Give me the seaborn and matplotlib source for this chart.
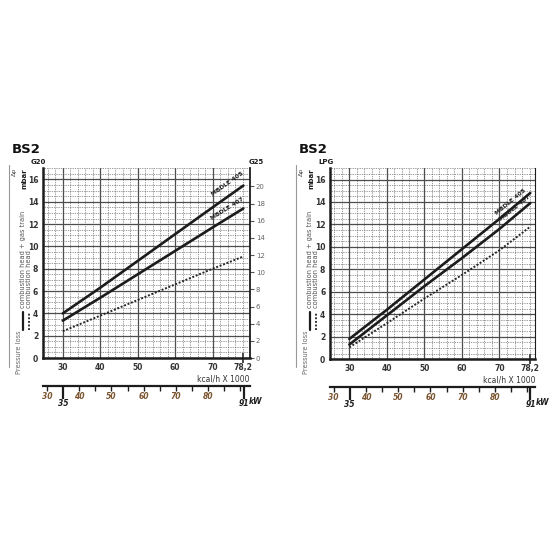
import matplotlib
matplotlib.use("Agg")
import matplotlib.pyplot as plt
from matplotlib.ticker import MultipleLocator, NullFormatter
from matplotlib.lines import Line2D
import seaborn as sns

# ---- data (kcal/h x 1000 vs pressure loss, mbar) ----
kcal = [30, 40, 50, 60, 70, 78.2]

g20_mbdle405 = [4.0, 6.3, 8.7, 11.1, 13.5, 15.45]
g20_mbdle407 = [3.35, 5.4, 7.5, 9.6, 11.7, 13.4]
g20_head = [2.4, 3.8, 5.2, 6.6, 8.0, 9.1]

lpg_mbdle405 = [1.8, 4.4, 7.1, 9.8, 12.5, 14.8]
lpg_mbdle407 = [1.3, 3.9, 6.5, 9.0, 11.6, 13.9]
lpg_head = [1.05, 3.2, 5.4, 7.5, 9.7, 11.8]

kcal_ticks = [30, 40, 50, 60, 70]
kw_ticks = [30, 40, 50, 60, 70, 80]
kw_minor = [45, 55, 65, 75, 85, 90]
kw_marks = [35, 91]
mbar_ticks = list(range(0, 17, 2))
g25_ticks = list(range(0, 21, 2))

KW_PER_KCAL = 1.163
G25_FACTOR = 1.3

sns.set_style("white")
plt.rcParams["font.family"] = ["DejaVu Sans"]

fig = plt.figure(figsize=(5.5, 5.5), dpi=100)

INK = "#1c1c1c"
KW_COL = "#7b5430"


def draw_panel(rect, xlim, upper, lower, head, gas, labels, g25=False, dx=0.0):
    ax = fig.add_axes(rect)
    sns.lineplot(x=kcal, y=upper, ax=ax, color=INK, lw=1.9)
    sns.lineplot(x=kcal, y=lower, ax=ax, color=INK, lw=1.9)
    sns.lineplot(x=kcal, y=head, ax=ax, color="#262626", lw=1.4, linestyle=(0, (1, 0.9)))

    ax.set_xlim(*xlim)
    ax.set_ylim(0, 17)
    ax.set_xlabel("")
    ax.set_ylabel("")

    ax.set_xticks(kcal_ticks)
    ax.set_yticks(mbar_ticks)
    ax.xaxis.set_minor_locator(MultipleLocator(2))
    ax.yaxis.set_minor_locator(MultipleLocator(0.5))
    ax.grid(which="major", color="#4d4d4d", lw=0.9, ls="-")
    ax.grid(which="minor", color="#5e5e5e", lw=0.55, ls=(0, (1, 1.3)))
    ax.tick_params(which="minor", length=0)
    ax.tick_params(which="major", length=3, width=1.2, color=INK, labelsize=5.5,
                   labelcolor="#333333", pad=0.4)
    for lab in ax.get_xticklabels() + ax.get_yticklabels():
        lab.set_fontweight("bold")

    ax.spines["top"].set_visible(False)
    ax.spines["left"].set_linewidth(1.8)
    ax.spines["bottom"].set_linewidth(1.8)
    ax.spines["right"].set_linewidth(1.3 if g25 else 0.8)
    for s in ("left", "bottom", "right"):
        ax.spines[s].set_color(INK)

    # 78,2 end mark on the kcal axis
    end = ax.secondary_xaxis("bottom")
    end.set_xticks([78.2], labels=["78,2"], fontweight="bold", color="#333333")
    end.tick_params(direction="inout", length=7, width=1.2, labelsize=5.5, pad=0.2)
    for s in end.spines.values():
        s.set_visible(False)
    ax.text(1.0, -0.085, "kcal/h X 1000", transform=ax.transAxes, ha="right", va="top",
            fontsize=5.5, color="#333333")

    # kW axis
    fwd = (lambda x: x * KW_PER_KCAL, lambda x: x / KW_PER_KCAL)
    kw = ax.secondary_xaxis(-0.146, functions=fwd)
    kw.set_xticks(kw_ticks, labels=[str(t) for t in kw_ticks], fontstyle="italic",
                  fontweight="bold", color=KW_COL)
    kw.set_xticks(kw_minor, minor=True)
    kw.xaxis.set_minor_formatter(NullFormatter())
    kw.tick_params(which="both", length=3.5, width=1, color=INK, labelsize=5.5, pad=0.8)
    for s in kw.spines.values():
        s.set_linewidth(1.6)
        s.set_color(INK)
    kw2 = ax.secondary_xaxis(-0.146, functions=fwd)
    kw2.set_xticks(kw_marks, labels=["35", "91"], fontstyle="italic",
                   fontweight="bold", color=INK)
    kw2.tick_params(length=9, width=1.6, color=INK, labelsize=5.5, pad=0.5)
    for s in kw2.spines.values():
        s.set_visible(False)
    ax.annotate("kW", xy=(91 / KW_PER_KCAL, -0.205), xycoords=("data", "axes fraction"),
                xytext=(4, 0), textcoords="offset points", ha="left", va="top",
                fontsize=5.5, fontstyle="italic", fontweight="bold", color=INK)

    if g25:
        sec = ax.secondary_yaxis("right", functions=(lambda y: y * G25_FACTOR,
                                                     lambda y: y / G25_FACTOR))
        sec.set_yticks(g25_ticks)
        sec.tick_params(length=3, width=0.8, color="#555555", labelsize=5,
                        labelcolor="#666666", pad=1.5)
        for s in sec.spines.values():
            s.set_visible(False)
        ax.text(1.03, 1.015, "G25", transform=ax.transAxes, ha="center", va="bottom",
                fontsize=5, fontweight="bold", color=INK)

    ax.text(-0.02, 1.015, gas, transform=ax.transAxes, ha="center", va="bottom",
            fontsize=5, fontweight="bold", color=INK)

    for (x, y, txt, rot) in labels:
        ax.text(x, y, txt, fontsize=4.3, fontweight="bold", rotation=rot,
                ha="center", va="center", color=INK, rotation_mode="anchor")

    # title and side legend column
    fig.text(0.021 + dx, 0.728, "BS2", fontsize=9.5, fontweight="bold", color="#111111",
             va="center", ha="left")
    fig.add_artist(Line2D([0.017 + dx, 0.017 + dx], [0.333, 0.70], color="#999999", lw=0.8))
    fig.text(0.027 + dx, 0.687, "Δp", rotation=90, fontsize=4.5, color="#444444",
             ha="center", va="center")
    fig.text(0.0435 + dx, 0.676, "mbar", rotation=90, fontsize=5, fontweight="bold",
             color=INK, ha="center", va="center")
    fig.text(0.034 + dx, 0.36, "Pressure loss", rotation=90, fontsize=4.8,
             color="#666666", ha="center", va="center")
    fig.add_artist(Line2D([0.041 + dx, 0.041 + dx], [0.40, 0.432], color=INK, lw=1.6))
    fig.add_artist(Line2D([0.052 + dx, 0.052 + dx], [0.40, 0.432], color=INK, lw=1.3,
                          ls=(0, (1, 1))))
    fig.text(0.041 + dx, 0.44, "combustion head + gas train", rotation=90, fontsize=4.8,
             color="#555555", ha="center", va="bottom")
    fig.text(0.052 + dx, 0.44, "combustion head", rotation=90, fontsize=4.8,
             color="#555555", ha="center", va="bottom")
    return ax


draw_panel([0.078, 0.349, 0.376, 0.345], (24.7, 79.9),
           g20_mbdle405, g20_mbdle407, g20_head, "G20",
           [(74.0, 15.6, "MBDLE 405", 35.5), (74.0, 13.4, "MBDLE 407", 32.0)],
           g25=True, dx=0.0)

draw_panel([0.600, 0.347, 0.373, 0.347], (24.85, 79.5),
           lpg_mbdle405, lpg_mbdle407, lpg_head, "LPG",
           [(72.9, 14.0, "MBDLE 405", 39.4), (74.2, 13.45, "MBDLE 407", 38.5)],
           g25=False, dx=0.522)

fig.savefig("out.png", dpi=100)
